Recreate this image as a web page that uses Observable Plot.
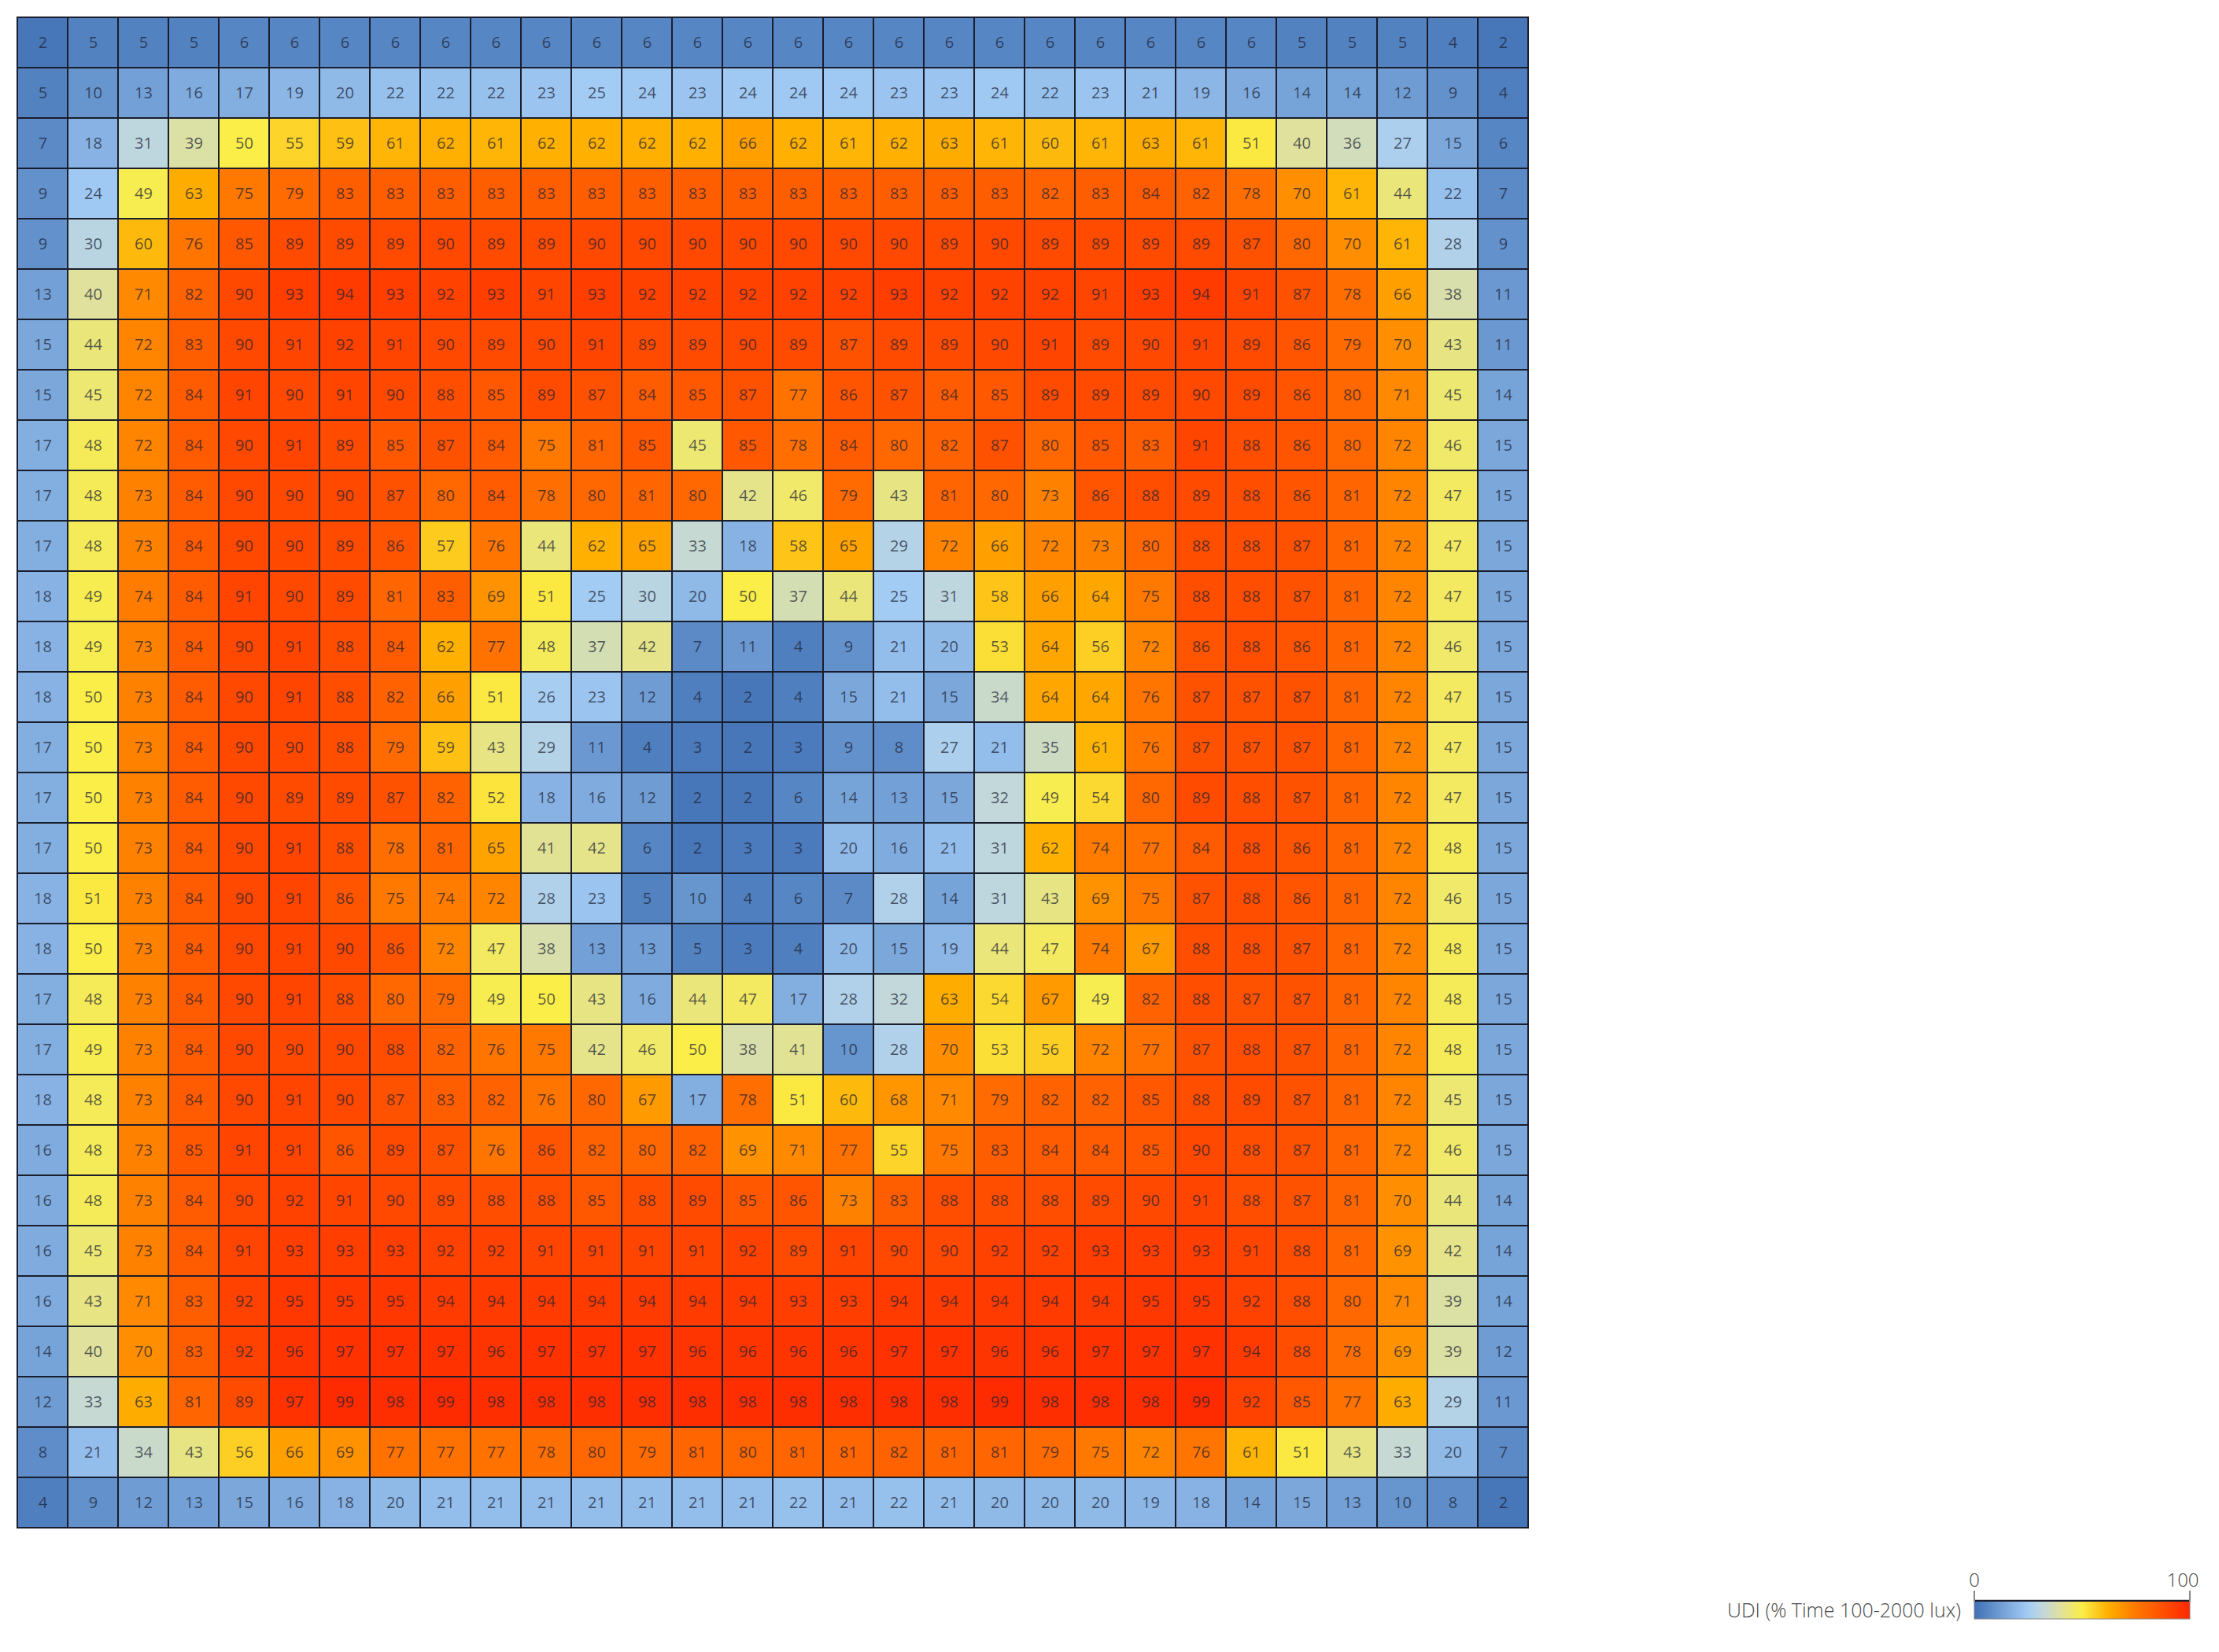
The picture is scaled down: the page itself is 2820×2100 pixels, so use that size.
<!DOCTYPE html>
<html>
<head>
<meta charset="utf-8">
<script src="https://cdn.jsdelivr.net/npm/d3@7"></script>
<script src="https://cdn.jsdelivr.net/npm/@observablehq/plot@0.6"></script>
<style>
  html, body { margin: 0; padding: 0; background: #ffffff; }
  body { width: 2820px; height: 2100px; position: relative; font-family: "Open Sans", "Noto Sans", sans-serif; }
  #chart svg { display: block; }
  .lg { position: absolute; color: #4a4a4a; font-family: "Open Sans", "Noto Sans", sans-serif; }
</style>
</head>
<body>
<div id="chart"></div>
<div id="legend"></div>
<script>
// UDI (% time 100-2000 lux) grid values, row by row (top to bottom), 30 columns each
const r01 = [2,5,5,5,6,6,6,6,6,6,6,6,6,6,6,6,6,6,6,6,6,6,6,6,6,5,5,5,4,2];
const r02 = [5,10,13,16,17,19,20,22,22,22,23,25,24,23,24,24,24,23,23,24,22,23,21,19,16,14,14,12,9,4];
const r03 = [7,18,31,39,50,55,59,61,62,61,62,62,62,62,66,62,61,62,63,61,60,61,63,61,51,40,36,27,15,6];
const r04 = [9,24,49,63,75,79,83,83,83,83,83,83,83,83,83,83,83,83,83,83,82,83,84,82,78,70,61,44,22,7];
const r05 = [9,30,60,76,85,89,89,89,90,89,89,90,90,90,90,90,90,90,89,90,89,89,89,89,87,80,70,61,28,9];
const r06 = [13,40,71,82,90,93,94,93,92,93,91,93,92,92,92,92,92,93,92,92,92,91,93,94,91,87,78,66,38,11];
const r07 = [15,44,72,83,90,91,92,91,90,89,90,91,89,89,90,89,87,89,89,90,91,89,90,91,89,86,79,70,43,11];
const r08 = [15,45,72,84,91,90,91,90,88,85,89,87,84,85,87,77,86,87,84,85,89,89,89,90,89,86,80,71,45,14];
const r09 = [17,48,72,84,90,91,89,85,87,84,75,81,85,45,85,78,84,80,82,87,80,85,83,91,88,86,80,72,46,15];
const r10 = [17,48,73,84,90,90,90,87,80,84,78,80,81,80,42,46,79,43,81,80,73,86,88,89,88,86,81,72,47,15];
const r11 = [17,48,73,84,90,90,89,86,57,76,44,62,65,33,18,58,65,29,72,66,72,73,80,88,88,87,81,72,47,15];
const r12 = [18,49,74,84,91,90,89,81,83,69,51,25,30,20,50,37,44,25,31,58,66,64,75,88,88,87,81,72,47,15];
const r13 = [18,49,73,84,90,91,88,84,62,77,48,37,42,7,11,4,9,21,20,53,64,56,72,86,88,86,81,72,46,15];
const r14 = [18,50,73,84,90,91,88,82,66,51,26,23,12,4,2,4,15,21,15,34,64,64,76,87,87,87,81,72,47,15];
const r15 = [17,50,73,84,90,90,88,79,59,43,29,11,4,3,2,3,9,8,27,21,35,61,76,87,87,87,81,72,47,15];
const r16 = [17,50,73,84,90,89,89,87,82,52,18,16,12,2,2,6,14,13,15,32,49,54,80,89,88,87,81,72,47,15];
const r17 = [17,50,73,84,90,91,88,78,81,65,41,42,6,2,3,3,20,16,21,31,62,74,77,84,88,86,81,72,48,15];
const r18 = [18,51,73,84,90,91,86,75,74,72,28,23,5,10,4,6,7,28,14,31,43,69,75,87,88,86,81,72,46,15];
const r19 = [18,50,73,84,90,91,90,86,72,47,38,13,13,5,3,4,20,15,19,44,47,74,67,88,88,87,81,72,48,15];
const r20 = [17,48,73,84,90,91,88,80,79,49,50,43,16,44,47,17,28,32,63,54,67,49,82,88,87,87,81,72,48,15];
const r21 = [17,49,73,84,90,90,90,88,82,76,75,42,46,50,38,41,10,28,70,53,56,72,77,87,88,87,81,72,48,15];
const r22 = [18,48,73,84,90,91,90,87,83,82,76,80,67,17,78,51,60,68,71,79,82,82,85,88,89,87,81,72,45,15];
const r23 = [16,48,73,85,91,91,86,89,87,76,86,82,80,82,69,71,77,55,75,83,84,84,85,90,88,87,81,72,46,15];
const r24 = [16,48,73,84,90,92,91,90,89,88,88,85,88,89,85,86,73,83,88,88,88,89,90,91,88,87,81,70,44,14];
const r25 = [16,45,73,84,91,93,93,93,92,92,91,91,91,91,92,89,91,90,90,92,92,93,93,93,91,88,81,69,42,14];
const r26 = [16,43,71,83,92,95,95,95,94,94,94,94,94,94,94,93,93,94,94,94,94,94,95,95,92,88,80,71,39,14];
const r27 = [14,40,70,83,92,96,97,97,97,96,97,97,97,96,96,96,96,97,97,96,96,97,97,97,94,88,78,69,39,12];
const r28 = [12,33,63,81,89,97,99,98,99,98,98,98,98,98,98,98,98,98,98,99,98,98,98,99,92,85,77,63,29,11];
const r29 = [8,21,34,43,56,66,69,77,77,77,78,80,79,81,80,81,81,82,81,81,79,75,72,76,61,51,43,33,20,7];
const r30 = [4,9,12,13,15,16,18,20,21,21,21,21,21,21,21,22,21,22,21,20,20,20,19,18,14,15,13,10,8,2];

const gridRows = [r01,r02,r03,r04,r05,r06,r07,r08,r09,r10,r11,r12,r13,r14,r15,r16,r17,r18,r19,r20,r21,r22,r23,r24,r25,r26,r27,r28,r29,r30];
const colIds = d3.range(1, 31);
const rowIds = d3.range(1, 31);

// colour scale (legend 0..100)
const colorDomain = [0, 25, 32, 40, 50, 62, 75, 100];
const colorRange = ["#3f70b4", "#a3ccf5", "#c2d8da", "#dfe19c", "#fbee48", "#ffb000", "#ff7800", "#ff2800"];
const legendLabel = "UDI (% Time 100-2000 lux)";
const legendTicks = [0, 100];

const cells = [];
gridRows.forEach((row, i) => row.forEach((v, j) => cells.push({row: rowIds[i], col: colIds[j], value: v})));

const chart = Plot.plot({
  width: 1964,
  height: 1964,
  marginTop: 22, marginBottom: 22, marginLeft: 22, marginRight: 22,
  style: {fontFamily: "'Open Sans', 'Noto Sans', sans-serif", background: "transparent"},
  x: {type: "band", domain: colIds, padding: 0, axis: null},
  y: {type: "band", domain: rowIds, padding: 0, axis: null},
  color: {type: "linear", domain: colorDomain, range: colorRange, clamp: true},
  marks: [
    Plot.cell(cells, {x: "col", y: "row", fill: "value", stroke: "#1a1d2b", strokeWidth: 2}),
    Plot.text(cells, {x: "col", y: "row", text: d => String(d.value), fontSize: 20, fill: "#1c2233", fillOpacity: 0.72})
  ]
});
document.getElementById("chart").appendChild(chart);

// legend below the chart
const leg = document.getElementById("legend");
const barX0 = 2509, barX1 = 2783, barY0 = 2034, barY1 = 2058;
const ls = d3.scaleLinear().domain([0, 100]).range([barX0, barX1]);
const cs = d3.scaleLinear().domain(colorDomain).range(colorRange).clamp(true);

const lab = document.createElement("div");
lab.className = "lg";
lab.textContent = legendLabel;
lab.style.cssText = "right:" + (2820 - 2492) + "px; top:" + 2029 + "px; font-size:25px; line-height:34px; white-space:nowrap; font-weight:300;";
leg.appendChild(lab);

const svgNS = "http://www.w3.org/2000/svg";
const ls_svg = document.createElementNS(svgNS, "svg");
ls_svg.setAttribute("width", 2820);
ls_svg.setAttribute("height", 2100);
ls_svg.style.cssText = "position:absolute; left:0; top:0; pointer-events:none;";
const defs = document.createElementNS(svgNS, "defs");
const grad = document.createElementNS(svgNS, "linearGradient");
grad.setAttribute("id", "udiGrad");
grad.setAttribute("x1", "0"); grad.setAttribute("x2", "1"); grad.setAttribute("y1", "0"); grad.setAttribute("y2", "0");
d3.range(0, 101, 2).forEach(t => {
  const st = document.createElementNS(svgNS, "stop");
  st.setAttribute("offset", t + "%");
  st.setAttribute("stop-color", cs(t));
  grad.appendChild(st);
});
defs.appendChild(grad);
ls_svg.appendChild(defs);
const rect = document.createElementNS(svgNS, "rect");
rect.setAttribute("x", barX0); rect.setAttribute("y", barY0);
rect.setAttribute("width", barX1 - barX0); rect.setAttribute("height", barY1 - barY0);
rect.setAttribute("fill", "url(#udiGrad)");
rect.setAttribute("stroke", "#8a8a8a");
rect.setAttribute("stroke-width", 1);
ls_svg.appendChild(rect);
const topLine = document.createElementNS(svgNS, "line");
topLine.setAttribute("x1", barX0); topLine.setAttribute("x2", barX1);
topLine.setAttribute("y1", barY0 + 1); topLine.setAttribute("y2", barY0 + 1);
topLine.setAttribute("stroke", "#1a1d2b"); topLine.setAttribute("stroke-width", 2);
ls_svg.appendChild(topLine);
legendTicks.forEach(t => {
  const tk = document.createElementNS(svgNS, "line");
  tk.setAttribute("x1", ls(t)); tk.setAttribute("x2", ls(t));
  tk.setAttribute("y1", barY0 - 12); tk.setAttribute("y2", barY0 + 2);
  tk.setAttribute("stroke", "#8a8a8a"); tk.setAttribute("stroke-width", 2);
  ls_svg.appendChild(tk);
  const tx = document.createElementNS(svgNS, "text");
  tx.setAttribute("x", t === 0 ? ls(t) : ls(t) - 9);
  tx.setAttribute("y", 2017);
  tx.setAttribute("text-anchor", "middle");
  tx.setAttribute("font-size", 24);
  tx.setAttribute("font-weight", 300);
  tx.setAttribute("font-family", "'Open Sans', 'Noto Sans', sans-serif");
  tx.setAttribute("fill", "#4a4a4a");
  tx.textContent = String(t);
  ls_svg.appendChild(tx);
});
leg.appendChild(ls_svg);
</script>
</body>
</html>
